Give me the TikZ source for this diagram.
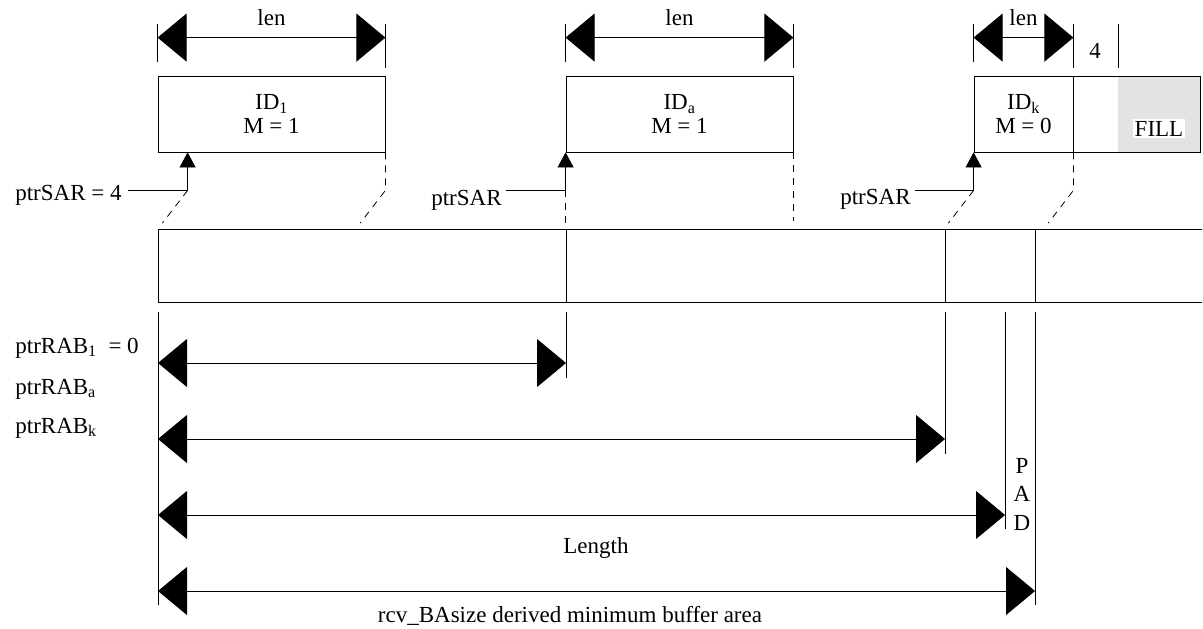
\documentclass[tikz,border=0pt]{standalone}
\usepackage{fontspec}
\setmainfont{Liberation Serif}
\usetikzlibrary{arrows.meta}

\begin{document}
\begin{tikzpicture}[x=1pt, y=-1pt, line width=0.8pt,
                  every node/.style={font=\fontsize{23}{22}\selectfont, inner sep=0pt},
                  frag/.style={draw, minimum height=76pt, align=center,
                    font=\fontsize{23}{24}\selectfont},
                  cota/.style={{Triangle[length=29pt,width=48pt]}-{Triangle[length=29pt,width=48pt]}},
                  puntero/.style={-{Triangle[length=15pt,width=16pt]}},
                  guia/.style={dash pattern=on 7pt off 6pt}]

                  \useasboundingbox (0,0) rectangle (1203,629);

                  % Fragmentos recibidos.
                  \fill[black!11] (1118,76) rectangle (1200,152);
                  \node[frag, minimum width=227pt] (id1) at (271.5,114) {ID\textsubscript{1}\\M = 1};
                  \node[frag, minimum width=227pt] (ida) at (679.5,114) {ID\textsubscript{a}\\M = 1};
                  \node[frag, minimum width=99pt] (idk) at (1023.5,114) {ID\textsubscript{k}\\M = 0};
                  \node[frag, minimum width=127pt] (ext) at (1136.5,114) {};
                  \node[fill=white, inner sep=1.5pt, anchor=base] (fill) at (1159,136) {FILL};
                  \coordinate (gris) at (1118,76);

                  % Cotas sobre los fragmentos.
                  \foreach \f in {id1,ida,idk} {
                    \draw ([yshift=14pt]\f.north west) -- ([yshift=52pt]\f.north west)
                          ([yshift=8pt]\f.north east) -- ([yshift=52pt]\f.north east);
                    \draw[cota] ([yshift=38pt]\f.north west) --
                      node[anchor=base, yshift=12pt] {len} ([yshift=38pt]\f.north east);
                  }
                  \draw ([yshift=8pt]gris) -- ([yshift=52pt]gris);
                  \node[anchor=base] (cuatro) at (1095,58) {4};

                  % Punteros SAR.
                  \coordinate (p1) at ([xshift=30pt, yshift=-38pt]id1.south west);
                  \coordinate (p2) at ([yshift=-38pt]ida.south west);
                  \coordinate (p3) at ([yshift=-38pt]idk.south west);
                  \node[anchor=base east, inner xsep=6pt] (sar1) at (128,200) {ptrSAR = 4};
                  \node[anchor=base east, inner xsep=4pt] (sar2) at (506,205) {ptrSAR};
                  \node[anchor=base east, inner xsep=4pt] (sar3) at (915,204) {ptrSAR};
                  \draw[puntero] (sar1.east |- p1) -- (p1) -- (p1 |- id1.south);
                  \draw[puntero] (sar2.east |- p2) -- (p2) -- (p2 |- ida.south);
                  \draw[puntero] (sar3.east |- p3) -- (p3) -- (p3 |- idk.south);

                  % Guias discontinuas hacia el buffer.
                  \draw[guia, shorten >=8pt] (p1) -- ++(-30,39);
                  \draw[guia, shorten >=8pt] (id1.south east) -- ++(0,38) -- ++(-30,39);
                  \draw[guia] (p2) -- ++(0,39);
                  \draw[guia] (ida.south east) -- ++(0,69);
                  \draw[guia, shorten >=8pt] (p3) -- ++(-30,39);
                  \draw[guia, shorten >=8pt] (idk.south east) -- ++(0,38) -- ++(-30,39);

                  % Buffer de reensamblado.
                  \draw (1202,229) -- (158,229) -- (158,302) -- (1202,302);
                  \foreach \x in {566,945,1035}
                    \draw (\x,229) -- (\x,302);

                  % Marcas y cotas bajo el buffer.
                  \foreach \n/\x/\y in {0/158/605, 1/566/378, 2/945/454, 3/1005/529, 4/1035/605} {
                    \coordinate (m\n) at (\x,312);
                    \draw (m\n) -- (\x,\y);
                  }
                  \draw[cota] (m0 |- 0,363) -- (m1 |- 0,363);
                  \draw[cota] (m0 |- 0,439) -- (m2 |- 0,439);
                  \draw[cota] (m0 |- 0,515) -- (m3 |- 0,515);
                  \draw[cota] (m0 |- 0,591) -- (m4 |- 0,591);

                  \node[anchor=base west] (rab1) at (15,353) {ptrRAB\textsubscript{1}\hspace{6pt} = 0};
                  \node[anchor=base west] (raba) at (15,394) {ptrRAB\textsubscript{a}};
                  \node[anchor=base west] (rabk) at (15,433) {ptrRAB\textsubscript{k}};
                  \node[anchor=north, align=center, font=\fontsize{23}{28.5}\selectfont] (pad) at (1022,458) {P\\A\\D};
                  \node[anchor=base] (length) at (596,553) {Length};
                  \node[anchor=base] (rcv) at (570,622) {rcv\_BAsize derived minimum buffer area};

                \end{tikzpicture}
\end{document}
